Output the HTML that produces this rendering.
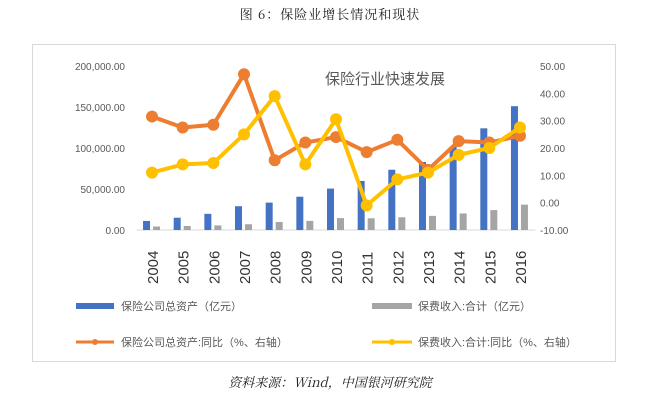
<!DOCTYPE html>
<html><head><meta charset="utf-8"><style>
body{margin:0;background:#fff;width:660px;height:403px;overflow:hidden;font-family:"Liberation Sans","Noto Sans CJK SC",sans-serif}
</style></head><body>
<svg width="660" height="403" viewBox="0 0 660 403" style="position:absolute;left:0;top:0">
<text x="330" y="19" text-anchor="middle" font-size="13" letter-spacing="1" fill="#222" font-family="Noto Serif CJK SC,serif">图 6：保险业增长情况和现状</text>
<rect x="32.5" y="44.5" width="583" height="317" fill="none" stroke="#d9d9d9"/>
<text x="385" y="84" text-anchor="middle" font-size="15" fill="#595959">保险行业快速发展</text>
<g id="axes"></g>
<g id="bars"></g>
<g id="lines"></g>
<g font-size="11" fill="#595959">
<rect x="76" y="303" width="38" height="6" fill="#4472c4"/>
<text x="121" y="310">保险公司总资产（亿元）</text>
<rect x="372" y="303" width="40" height="6" fill="#a5a5a5"/>
<text x="418" y="310">保费收入:合计（亿元）</text>
<line x1="76" y1="342" x2="114" y2="342" stroke="#ed7d31" stroke-width="3"/>
<circle cx="95" cy="342" r="3" fill="#ed7d31"/>
<text x="121" y="346">保险公司总资产:同比（%、右轴）</text>
<line x1="372" y1="342" x2="412" y2="342" stroke="#ffc000" stroke-width="3"/>
<circle cx="392" cy="342" r="3" fill="#ffc000"/>
<text x="418" y="346">保费收入:合计:同比（%、右轴）</text>
</g>
<text x="330" y="387" text-anchor="middle" font-size="13" font-style="italic" fill="#222" font-family="Noto Serif CJK SC,serif">资料来源：Wind，中国银河研究院</text>
</svg>
<script>
const years=["2004","2005","2006","2007","2008","2009","2010","2011","2012","2013","2014","2015","2016"];
const assets=[11000,15000,19700,29000,33400,40600,50500,59800,73500,82900,101600,124000,151000];
const premium=[4300,4900,5600,7000,9800,11100,14500,14300,15500,17200,20200,24300,30900];
const assetsYoy=[31.5,27.5,28.5,47,15.5,22,24,18.5,23,12,22.5,22,24.5];
const premiumYoy=[11,14,14.5,25,39,14,30.5,-1,8.5,11,17.5,20,27.5];
const leftTicks=[0,50000,100000,150000,200000];
const rightTicks=[-10,0,10,20,30,40,50];
const NS="http://www.w3.org/2000/svg";
const y0=230,y1=66,xL=136.7,xR=535.3;
const yL=v=>y0-(v/200000)*(y0-y1);
const yR=v=>y0-((v+10)/60)*(y0-y1);
const step=(xR-xL)/years.length;
const xC=i=>xL+step*(i+0.5);
function mk(t,a,p){const e=document.createElementNS(NS,t);for(const k in a)e.setAttribute(k,a[k]);p.appendChild(e);return e;}
const ax=document.getElementById('axes'),bg=document.getElementById('bars'),lg=document.getElementById('lines');
const fmt=v=>v.toLocaleString('en-US',{minimumFractionDigits:2,maximumFractionDigits:2});
const base=mk('line',{x1:xL,y1:y0,x2:xR,y2:y0,stroke:'#d9d9d9'},ax);


leftTicks.forEach(v=>{const t=mk('text',{x:125,y:yL(v)+4,'text-anchor':'end','font-size':'10',fill:'#595959'},ax);t.textContent=fmt(v);

});
rightTicks.forEach(v=>{const t=mk('text',{x:540,y:yR(v)+4,'font-size':'10',fill:'#595959'},ax);t.textContent=fmt(v);

});
years.forEach((y,i)=>{const x=xC(i);const t=mk('text',{x:0,y:0,'font-size':'15',fill:'#333',transform:`translate(${x+6},${284}) rotate(-90)`},ax);t.textContent=y;


const b=mk('rect',{x:x-9,y:yL(assets[i]),width:7,height:y0-yL(assets[i]),fill:'#4472c4'},bg);


const g=mk('rect',{x:x+1,y:yL(premium[i]),width:7,height:y0-yL(premium[i]),fill:'#a5a5a5'},bg);

});
[[assetsYoy,'#ed7d31','assets-yoy'],[premiumYoy,'#ffc000','premium-yoy']].forEach(([d,c,n])=>{
const p=mk('polyline',{points:d.map((v,i)=>xC(i)+','+yR(v)).join(' '),fill:'none',stroke:c,'stroke-width':4,'stroke-linejoin':'round'},lg);


d.forEach((v,i)=>{const m=mk('circle',{cx:xC(i),cy:yR(v),r:6,fill:c},lg);

});});
</script>
</body></html>
